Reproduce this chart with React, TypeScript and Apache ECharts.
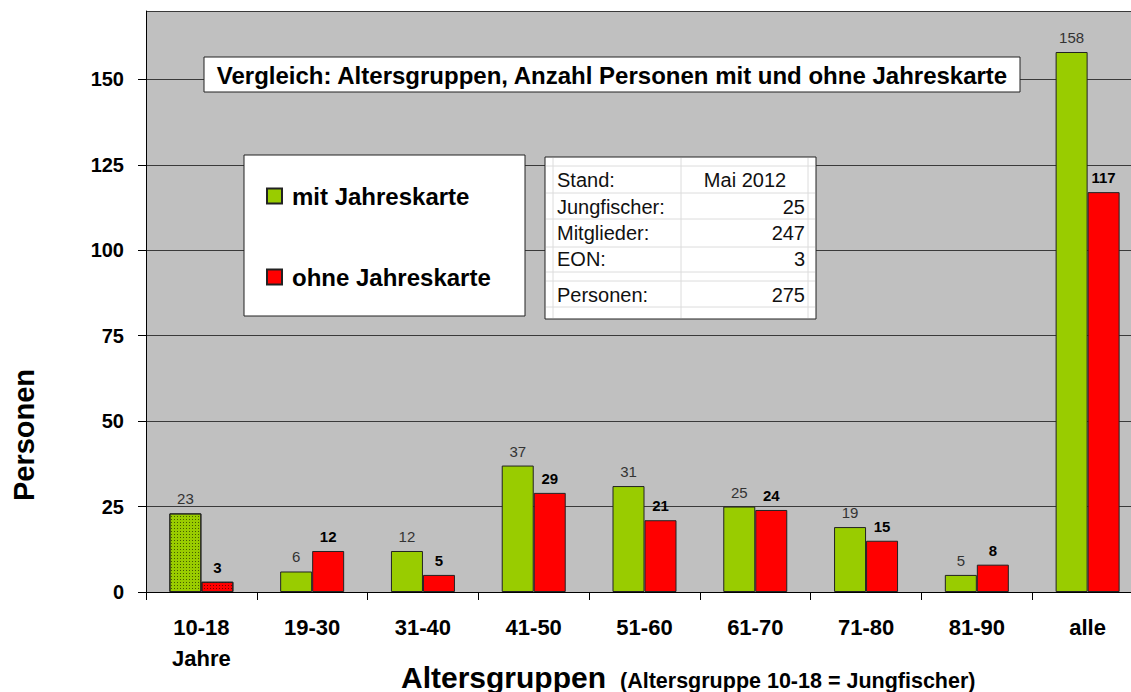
import React, { useEffect, useRef } from "react";
import * as echarts from "echarts";

const categories = ["10-18\nJahre", "19-30", "31-40", "41-50", "51-60", "61-70", "71-80", "81-90", "alle"];
const mitJahreskarte = [23, 6, 12, 37, 31, 25, 19, 5, 158];
const ohneJahreskarte = [3, 12, 5, 29, 21, 24, 15, 8, 117];
const seriesNames = ["mit Jahreskarte", "ohne Jahreskarte"];
const tableLabels = ["Stand:", "Jungfischer:", "Mitglieder:", "EON:", "Personen:"];
const tableValues = ["Mai 2012", "25", "247", "3", "275"];
const chartTitle = "Vergleich: Altersgruppen, Anzahl Personen mit und ohne Jahreskarte";
const yAxisTitle = "Personen";
const xAxisTitle = "Altersgruppen";
const xAxisNote = "(Altersgruppe 10-18 = Jungfischer)";

const FONT = '"Liberation Sans", Arial, sans-serif';

export default function App() {
  const ref = useRef<HTMLDivElement>(null);
  useEffect(() => {
    document.body.style.margin = "0";
    const chart = echarts.init(ref.current!, null, { renderer: "svg" });
    const dotDecal = {
      symbol: "rect",
      symbolSize: 1,
      dashArrayX: [1, 2],
      dashArrayY: [1, 2],
      color: "rgba(0,0,0,0.55)",
    };
    const tableRowY = [180, 207, 233, 259, 295];
    const tableChildren: any[] = [
      { type: "rect", shape: { x: 0, y: 0, width: 271, height: 162 }, style: { fill: "#fff", stroke: "#222", lineWidth: 1 } },
    ];
    [8, 136, 263].forEach((x) =>
      tableChildren.push({ type: "line", shape: { x1: x, y1: 1, x2: x, y2: 161 }, style: { stroke: "#dcdcdc", lineWidth: 1 } })
    );
    [9, 36, 62, 90, 115, 124, 150].forEach((y) =>
      tableChildren.push({ type: "line", shape: { x1: 1, y1: y, x2: 270, y2: y }, style: { stroke: "#dcdcdc", lineWidth: 1 } })
    );
    tableLabels.forEach((t, i) =>
      tableChildren.push({
        type: "text",
        x: 12,
        y: tableRowY[i] - 157,
        style: { text: t, font: `20px ${FONT}`, fill: "#111", textAlign: "left", textVerticalAlign: "middle" },
      })
    );
    tableValues.forEach((t, i) =>
      tableChildren.push({
        type: "text",
        x: i === 0 ? 200 : 260,
        y: tableRowY[i] - 157,
        style: { text: t, font: `20px ${FONT}`, fill: "#111", textAlign: i === 0 ? "center" : "right", textVerticalAlign: "middle" },
      })
    );

    chart.setOption({
      animation: false,
      backgroundColor: "#fff",
      textStyle: { fontFamily: FONT },
      grid: {
        left: 146,
        top: 11,
        width: 997,
        bottom: 100,
        show: true,
        backgroundColor: "#C0C0C0",
        borderWidth: 0,
        containLabel: false,
        outerBoundsMode: "none",
      },
      legend: {
        orient: "vertical",
        left: 266,
        top: 184,
        padding: 0,
        itemWidth: 15,
        itemHeight: 15,
        itemGap: 57,
        icon: "rect",
        z: 20,
        data: seriesNames,
        textStyle: { fontSize: 24, fontWeight: "bold", color: "#000", fontFamily: FONT, lineHeight: 24, padding: [0, 0, 0, 5] },
      },
      xAxis: {
        type: "category",
        data: categories,
        axisLine: { lineStyle: { color: "#000", width: 1 } },
        axisTick: { show: true, length: 8, lineStyle: { color: "#000" } },
        axisLabel: { fontSize: 22, fontWeight: "bold", color: "#000", lineHeight: 31, margin: 20, fontFamily: FONT },
        splitLine: { show: false },
      },
      yAxis: {
        type: "value",
        min: 0,
        max: 170,
        interval: 25,
        axisLine: { show: true, lineStyle: { color: "#000", width: 1 } },
        axisTick: { show: true, length: 8, lineStyle: { color: "#000" } },
        axisLabel: { fontSize: 20, fontWeight: "bold", color: "#000", margin: 22, showMaxLabel: false, fontFamily: FONT },
        splitLine: { show: true, lineStyle: { color: "#3a3a3a", width: 1 } },
      },
      series: [
        {
          name: seriesNames[0],
          type: "bar",
          barWidth: 32,
          barGap: "0%",
          itemStyle: { color: "#99CC00", borderColor: "#222", borderWidth: 1 },
          label: { show: true, position: "top", distance: 7, fontSize: 15, color: "#333", fontFamily: FONT },
          data: mitJahreskarte.map((v, i) => (i === 0 ? { value: v, itemStyle: { decal: dotDecal } } : v)),
        },
        {
          name: seriesNames[1],
          type: "bar",
          barWidth: 32,
          barGap: "0%",
          itemStyle: { color: "#FF0000", borderColor: "#222", borderWidth: 1 },
          label: { show: true, position: "top", distance: 7, fontSize: 15, fontWeight: "bold", color: "#000", fontFamily: FONT },
          data: ohneJahreskarte.map((v, i) => (i === 0 ? { value: v, itemStyle: { decal: dotDecal } } : v)),
        },
      ],
      graphic: [
        {
          type: "rect",
          z: 10,
          shape: { x: 204, y: 57, width: 816, height: 35 },
          style: { fill: "#fff", stroke: "#222", lineWidth: 1 },
        },
        {
          type: "text",
          z: 11,
          x: 612,
          y: 75,
          style: { text: chartTitle, font: `bold 24px ${FONT}`, fill: "#000", textAlign: "center", textVerticalAlign: "middle" },
        },
        {
          type: "rect",
          z: 10,
          shape: { x: 244, y: 155, width: 281, height: 161 },
          style: { fill: "#fff", stroke: "#222", lineWidth: 1 },
        },
        { type: "group", x: 545, y: 157, z: 10, children: tableChildren.map((c) => ({ ...c, z: 10 })) },
        {
          type: "text",
          x: 24,
          y: 435,
          rotation: Math.PI / 2,
          style: { text: yAxisTitle, font: `bold 29px ${FONT}`, fill: "#000", textAlign: "center", textVerticalAlign: "middle" },
        },
        {
          type: "text",
          x: 401,
          y: 677,
          style: {
            text: `{a|${xAxisTitle}}{b|${xAxisNote}}`,
            textVerticalAlign: "middle",
            rich: {
              a: { fontSize: 30, fontWeight: "bold", fontFamily: FONT, fill: "#000", color: "#000" },
              b: { fontSize: 21.5, fontWeight: "bold", fontFamily: FONT, fill: "#000", color: "#000", verticalAlign: "bottom", padding: [0, 0, 0, 14] },
            },
          },
        },
      ],
    });
    return () => chart.dispose();
  }, []);
  return <div ref={ref} style={{ position: "absolute", left: 0, top: 0, width: 1131, height: 692 }} />;
}
